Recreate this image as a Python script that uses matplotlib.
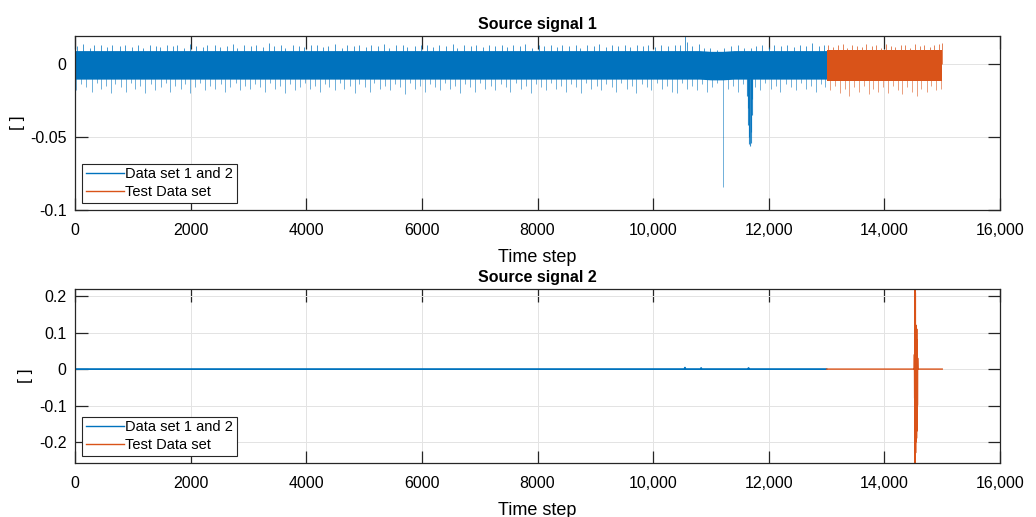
import numpy as np
import matplotlib
matplotlib.use('Agg')
import matplotlib.pyplot as plt

plt.rcParams['font.family'] = ['Liberation Sans', 'DejaVu Sans']

BLUE = '#0072BD'
ORANGE = '#D95319'

# ---- Source signal 1 ----
# dense core of the noise band
band1_t = [0, 2000, 4000, 6000, 8000, 10000, 10800, 11000, 11200, 11400, 12000, 13000]
band1_hi = [0.009, 0.009, 0.009, 0.009, 0.009, 0.009, 0.009, 0.0085, 0.0085, 0.009, 0.009, 0.009]
band1_lo = [-0.0105, -0.0105, -0.0105, -0.0105, -0.0105, -0.0105, -0.0105, -0.011, -0.011,
            -0.0105, -0.0105, -0.0105]
band1_test_t = [13000, 14000, 15000]
band1_test_hi = [0.0095, 0.0095, 0.0095]
band1_test_lo = [-0.012, -0.012, -0.012]

# upward / downward peaks sticking out of the band
up1_t = [40, 130, 260, 330, 450, 560, 640, 780, 870, 990, 1090, 1170, 1290, 1400, 1470, 1590,
         1700, 1760, 1880, 1990, 2090, 2210, 2290, 2420, 2510, 2630, 2740, 2810, 2930, 3040,
         3130, 3250, 3360, 3450, 3560, 3640, 3770, 3880, 3960, 4080, 4190, 4290, 4370, 4490,
         4610, 4700, 4820, 4910, 5030, 5120, 5240, 5350, 5430, 5560, 5670, 5750, 5880, 5990,
         6080, 6200, 6300, 6410, 6530, 6610, 6730, 6850, 6940, 7060, 7160, 7270, 7390, 7470,
         7580, 7700, 7790, 7910, 8020, 8110, 8230, 8340, 8430, 8550, 8660, 8740, 8860, 8970,
         9060, 9180, 9280, 9390, 9510, 9600, 9720, 9830, 9910, 10030, 10140, 10260, 10370,
         10460, 10550, 10590, 10680, 10790, 10880, 10990, 11100, 11230, 11340, 11460, 11570,
         11690, 11780, 11880, 12000, 12090, 12210, 12320, 12430, 12540, 12650, 12740, 12860,
         12950]
up1_v = [0.012, 0.0135, 0.011, 0.0125, 0.013, 0.0115, 0.0125, 0.012, 0.013, 0.0115, 0.0125,
         0.011, 0.013, 0.012, 0.0115, 0.013, 0.012, 0.0125, 0.011, 0.0135, 0.012, 0.0115,
         0.0125, 0.013, 0.0115, 0.012, 0.0135, 0.011, 0.0125, 0.012, 0.013, 0.0115, 0.0145,
         0.012, 0.0125, 0.011, 0.013, 0.012, 0.0115, 0.0125, 0.013, 0.0115, 0.012, 0.0135,
         0.011, 0.0125, 0.012, 0.013, 0.0115, 0.0125, 0.012, 0.0135, 0.011, 0.0125, 0.013,
         0.0115, 0.012, 0.0125, 0.013, 0.0115, 0.0125, 0.012, 0.0135, 0.011, 0.0125, 0.012,
         0.013, 0.0115, 0.0125, 0.012, 0.013, 0.0115, 0.0125, 0.012, 0.0135, 0.011, 0.0125,
         0.012, 0.013, 0.0115, 0.0125, 0.012, 0.013, 0.011, 0.0125, 0.012, 0.0135, 0.0115,
         0.0125, 0.012, 0.013, 0.0115, 0.0125, 0.012, 0.013, 0.0115, 0.0125, 0.012, 0.013,
         0.0125, 0.0195, 0.015, 0.012, 0.0135, 0.011, 0.0105, 0.0095, 0.011, 0.012, 0.0125,
         0.011, 0.0105, 0.012, 0.013, 0.0115, 0.0125, 0.012, 0.013, 0.0115, 0.0125, 0.012,
         0.0145, 0.012, 0.0125]
down1_t = [20, 110, 190, 290, 380, 450, 540, 630, 700, 790, 880, 960, 1040, 1130, 1210, 1320,
           1390, 1480, 1570, 1650, 1730, 1830, 1900, 1990, 2080, 2160, 2250, 2340, 2430, 2520,
           2590, 2680, 2780, 2850, 2940, 3030, 3110, 3200, 3290, 3380, 3460, 3540, 3640, 3710,
           3800, 3890, 3970, 4060, 4150, 4230, 4330, 4400, 4490, 4580, 4660, 4750, 4840, 4920,
           5010, 5100, 5180, 5270, 5360, 5450, 5530, 5620, 5710, 5790, 5880, 5960, 6050, 6140,
           6230, 6310, 6400, 6490, 6580, 6660, 6750, 6840, 6920, 7010, 7100, 7190, 7270, 7360,
           7450, 7530, 7620, 7710, 7800, 7880, 7970, 8060, 8140, 8230, 8320, 8410, 8490, 8580,
           8670, 8750, 8840, 8930, 9020, 9100, 9190, 9280, 9360, 9450, 9540, 9630, 9710, 9800,
           9890, 9970, 10060, 10150, 10240, 10320, 10410, 10500, 10580, 10670, 10760, 10840,
           10930, 11020, 11110, 11200, 11290, 11380, 11470, 11560, 11760, 11850, 11940, 12030,
           12120, 12200, 12290, 12380, 12470, 12550, 12640, 12730, 12820, 12900, 12980]
down1_v = [-0.018, -0.014, -0.016, -0.019, -0.013, -0.017, -0.015, -0.020, -0.014, -0.016,
           -0.019, -0.013, -0.017, -0.015, -0.020, -0.014, -0.018, -0.016, -0.013, -0.019,
           -0.015, -0.017, -0.014, -0.020, -0.016, -0.013, -0.018, -0.015, -0.017, -0.014,
           -0.019, -0.016, -0.013, -0.018, -0.015, -0.017, -0.014, -0.016, -0.019, -0.013,
           -0.017, -0.015, -0.020, -0.014, -0.018, -0.016, -0.013, -0.017, -0.015, -0.019,
           -0.014, -0.016, -0.018, -0.013, -0.017, -0.015, -0.020, -0.014, -0.016, -0.019,
           -0.013, -0.017, -0.015, -0.018, -0.014, -0.016, -0.021, -0.013, -0.017, -0.015,
           -0.019, -0.014, -0.016, -0.018, -0.013, -0.017, -0.015, -0.020, -0.014, -0.016,
           -0.019, -0.013, -0.017, -0.015, -0.018, -0.014, -0.016, -0.019, -0.013, -0.017,
           -0.015, -0.020, -0.014, -0.016, -0.018, -0.013, -0.017, -0.015, -0.019, -0.014,
           -0.016, -0.020, -0.013, -0.017, -0.015, -0.018, -0.014, -0.016, -0.019, -0.013,
           -0.017, -0.015, -0.020, -0.014, -0.016, -0.018, -0.013, -0.017, -0.015, -0.019,
           -0.020, -0.013, -0.017, -0.015, -0.018, -0.014, -0.019, -0.016,
           -0.013, -0.084, -0.017, -0.015, -0.019, -0.014, -0.016, -0.018, -0.013, -0.017,
           -0.015, -0.019, -0.014, -0.016, -0.018, -0.013, -0.017, -0.015, -0.019, -0.014,
           -0.016]
# wider dip around step 11,670
dip1_t = [11625, 11635, 11645, 11655, 11665, 11675, 11685, 11695, 11705, 11715]
dip1_v = [-0.022, -0.03, -0.042, -0.05, -0.055, -0.056, -0.054, -0.047, -0.035, -0.024]

up1_test_t = [13030, 13110, 13190, 13280, 13360, 13440, 13530, 13610, 13690, 13780, 13860,
              13940, 14030, 14110, 14190, 14280, 14360, 14440, 14530, 14610, 14690, 14780,
              14860, 14940, 14990]
up1_test_v = [0.013, 0.0115, 0.0125, 0.0135, 0.011, 0.013, 0.012, 0.0115, 0.0135, 0.012,
              0.0125, 0.011, 0.0135, 0.012, 0.0115, 0.013, 0.0125, 0.011, 0.0135, 0.012,
              0.013, 0.0115, 0.0125, 0.0135, 0.014]
down1_test_t = [13060, 13140, 13230, 13310, 13390, 13480, 13560, 13640, 13730, 13810, 13890,
                13980, 14060, 14140, 14230, 14310, 14390, 14480, 14560, 14640, 14730, 14810,
                14890, 14970]
down1_test_v = [-0.018, -0.015, -0.020, -0.017, -0.022, -0.016, -0.019, -0.015, -0.021,
                -0.017, -0.019, -0.016, -0.020, -0.015, -0.018, -0.021, -0.016, -0.019,
                -0.022, -0.017, -0.019, -0.015, -0.018, -0.017]

# ---- Source signal 2 ----
sig2_t = [0, 10540, 10550, 10560, 10820, 10830, 10840, 11640, 11650, 11660, 13000]
sig2_v = [0, 0, 0.004, 0, 0, 0.003, 0, 0, 0.003, 0, 0]
sig2_test_t = [13000, 14515, 14519, 14523, 14527, 14531, 14535, 14539, 14543, 14547, 14551,
               14555, 14559, 14563, 14567, 14571, 14575, 14579, 15000]
sig2_test_v = [0, 0, 0.04, -0.08, 0.35, -0.40, 0.21, -0.23, 0.12, -0.20, 0.12, -0.19, 0.11,
               -0.17, 0.08, -0.10, 0.03, 0, 0]

xticks = [0, 2000, 4000, 6000, 8000, 10000, 12000, 14000, 16000]
xticklabels = ['0', '2000', '4000', '6000', '8000', '10,000', '12,000', '14,000', '16,000']

fig = plt.figure(figsize=(10.36, 5.17), dpi=100)
ax1 = fig.add_axes([0.0724, 0.5938, 0.8929, 0.3366])
ax2 = fig.add_axes([0.0724, 0.1044, 0.8929, 0.3366])

lw = 0.6
ax1.fill_between(band1_t, band1_lo, band1_hi, color=BLUE, lw=0)
ax1.vlines(up1_t, 0, up1_v, color=BLUE, lw=lw, alpha=0.85)
ax1.vlines(down1_t, 0, down1_v, color=BLUE, lw=lw, alpha=0.65)
ax1.vlines(dip1_t, 0, dip1_v, color=BLUE, lw=0.8, alpha=0.8)
ax1.fill_between(band1_test_t, band1_test_lo, band1_test_hi, color=ORANGE, lw=0)
ax1.vlines(up1_test_t, 0, up1_test_v, color=ORANGE, lw=lw, alpha=0.85)
ax1.vlines(down1_test_t, 0, down1_test_v, color=ORANGE, lw=lw, alpha=0.65)
ax1.plot([], [], color=BLUE, lw=1, label='Data set 1 and 2')
ax1.plot([], [], color=ORANGE, lw=1, label='Test Data set')
ax1.set_ylim(-0.1, 0.019)
ax1.set_yticks([-0.1, -0.05, 0])
ax1.set_yticklabels(['-0.1', '-0.05', '0'])
ax1.set_title('Source signal 1', fontsize=11.5, fontweight='bold', pad=5)

ax2.plot(sig2_t, sig2_v, color=BLUE, lw=1.3)
ax2.plot(sig2_test_t, sig2_test_v, color=ORANGE, lw=1.0)
ax2.plot([], [], color=BLUE, lw=1, label='Data set 1 and 2')
ax2.plot([], [], color=ORANGE, lw=1, label='Test Data set')
ax2.set_ylim(-0.258, 0.22)
ax2.set_yticks([-0.2, -0.1, 0, 0.1, 0.2])
ax2.set_yticklabels(['-0.2', '-0.1', '0', '0.1', '0.2'])
ax2.set_title('Source signal 2', fontsize=11.5, fontweight='bold', pad=5)

for ax in (ax1, ax2):
    ax.set_xlim(0, 16000)
    ax.set_xticks(xticks)
    ax.set_xticklabels(xticklabels)
    ax.grid(True, color='#e3e3e3', lw=0.7)
    ax.set_axisbelow(True)
    ax.tick_params(direction='in', length=9, width=0.9, top=True, right=True,
                   labelsize=11.5, colors='#262626', labelcolor='black')
    ax.tick_params(axis='x', pad=9)
    ax.tick_params(axis='y', pad=6)
    for s in ax.spines.values():
        s.set_color('#262626')
        s.set_linewidth(0.9)
    ax.set_xlabel('Time step', fontsize=13, labelpad=8)
    ax.set_ylabel('[ ]', fontsize=12.5, labelpad=4)
    leg = ax.legend(loc='lower left', fontsize=10.5, handlelength=2.6, handletextpad=0.1,
                    borderpad=0.25, labelspacing=0.25, borderaxespad=0.5, fancybox=False,
                    framealpha=1)
    leg.get_frame().set_edgecolor('#262626')
    leg.get_frame().set_linewidth(0.8)

fig.savefig('out.png', dpi=100)
